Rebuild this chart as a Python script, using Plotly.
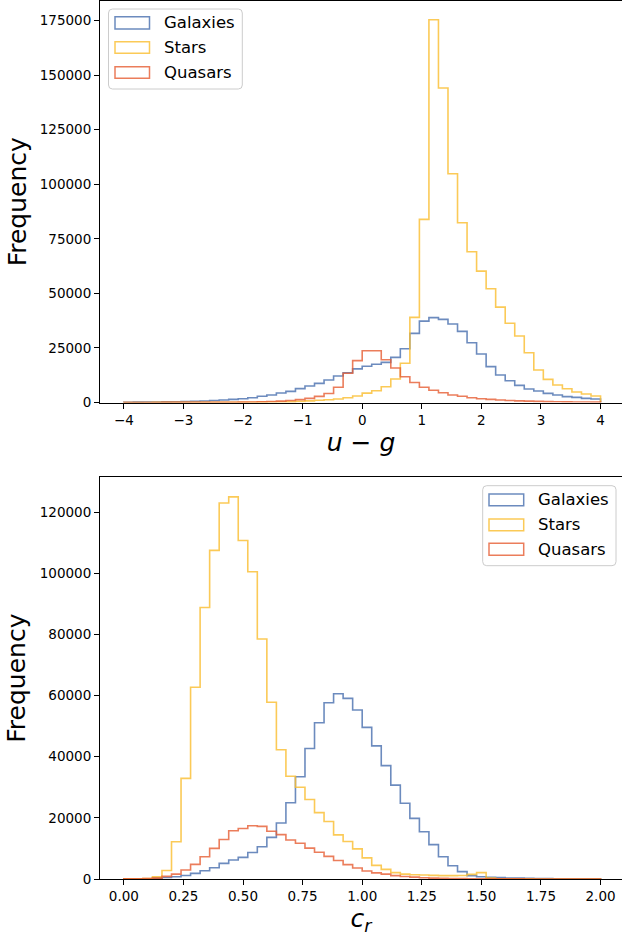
import numpy as np
import plotly.graph_objects as go

# ---------------- data (counts per bin, 50 bins each) ----------------
ug_edges = np.linspace(-4, 4, 51)   # u-g bins
cr_edges = np.linspace(0, 2, 51)    # c_r bins

ug_galaxies = [120, 150, 200, 250, 300, 350, 450, 550, 700, 900,
               1150, 1450, 1750, 2200, 2830, 3440, 4350, 5110, 6340, 7560,
               8780, 10300, 12140, 13650, 15400, 16600, 17500, 18400, 20700, 24650,
               31700, 37300, 38900, 38100, 35960, 32600, 27400, 22200, 16420, 12600,
               10000, 7860, 6180, 5270, 4200, 3440, 2670, 2370, 1910, 1600]
ug_stars = [20, 25, 30, 35, 40, 45, 50, 60, 70, 80,
            90, 100, 120, 140, 170, 200, 250, 300, 500, 750,
            1000, 1250, 1600, 2200, 3000, 4300, 5400, 7250, 10800, 18000,
            39000, 83900, 175400, 144100, 104800, 82400, 69100, 60200, 52100, 43700,
            36300, 30500, 22800, 14900, 10600, 8000, 6300, 4800, 3900, 3000]
ug_quasars = [20, 20, 25, 30, 35, 40, 45, 55, 65, 75,
              80, 100, 150, 250, 350, 450, 650, 900, 1300, 1900,
              2800, 4100, 7000, 13400, 19200, 23700, 23700, 19600, 15800, 11800,
              9150, 7000, 5600, 4500, 3450, 2850, 2200, 1750, 1450, 1150,
              900, 750, 650, 500, 400, 350, 300, 250, 200, 150]

cr_galaxies = [20, 40, 100, 300, 500, 750, 1150, 1850, 2720, 3700,
               5120, 6210, 7090, 8650, 10570, 13630, 18300, 24950, 33460, 42700,
               51100, 57650, 60600, 59100, 55260, 49600, 43550, 37100, 30700, 24800,
               19840, 15480, 11230, 7300, 4350, 2400, 1100, 750, 550, 450,
               350, 280, 220, 170, 130, 100, 80, 60, 40, 30]
cr_stars = [30, 60, 150, 700, 2800, 12200, 32900, 62700, 88800, 107500,
            123000, 125000, 110750, 100500, 78500, 57800, 42300, 33600, 30000, 26000,
            21700, 18800, 14450, 12250, 9850, 6900, 4450, 3150, 2100, 1600,
            1400, 1300, 1200, 1100, 1100, 1150, 1500, 2100, 300, 100,
            50, 40, 30, 20, 15, 10, 10, 5, 5, 5]
cr_quasars = [30, 60, 120, 300, 850, 1580, 2940, 4800, 7300, 10030,
              12900, 15800, 16500, 17440, 17200, 15600, 14500, 12750, 11670, 10100,
              8750, 7400, 6050, 4700, 3600, 2600, 2000, 1600, 1100, 800,
              600, 400, 300, 220, 170, 130, 100, 80, 60, 40,
              30, 25, 20, 15, 10, 10, 8, 5, 5, 5]

series_names = ["Galaxies", "Stars", "Quasars"]
ug_x_ticks = [-4, -3, -2, -1, 0, 1, 2, 3, 4]
ug_x_ticktext = ["\u22124", "\u22123", "\u22122", "\u22121", "0", "1", "2", "3", "4"]
cr_x_ticks = [0, 0.25, 0.5, 0.75, 1.0, 1.25, 1.5, 1.75, 2.0]
cr_x_ticktext = ["0.00", "0.25", "0.50", "0.75", "1.00", "1.25", "1.50", "1.75", "2.00"]
ug_y_ticks = [0, 25000, 50000, 75000, 100000, 125000, 150000, 175000]
cr_y_ticks = [0, 20000, 40000, 60000, 80000, 100000, 120000]

# ---------------- style ----------------
colors = ["rgba(76,114,176,0.82)", "rgba(250,190,50,0.82)", "rgba(230,92,50,0.80)"]
FONT = "DejaVu Sans"
W, H = 622, 938
ML, MR, MT, MB = 100, 0, 1, 59
PW, PH = W - ML - MR, H - MT - MB


def px_x(px):
    return (px - ML) / PW


def px_y(py):
    return (H - MB - py) / PH


def step_xy(edges, counts):
    x = np.concatenate([[edges[0]], edges])
    y = np.concatenate([[0], np.asarray(counts, dtype=float), [0]])
    return x, y


fig = go.Figure()
for xa, ya, edges, data in [("x", "y", ug_edges, [ug_galaxies, ug_stars, ug_quasars]),
                            ("x2", "y2", cr_edges, [cr_galaxies, cr_stars, cr_quasars])]:
    for name, col, counts in zip(series_names, colors, data):
        sx, sy = step_xy(edges, counts)
        fig.add_trace(go.Scatter(x=sx, y=sy, mode="lines", line_shape="hv",
                                 line=dict(color=col, width=1.6), name=name,
                                 showlegend=False, xaxis=xa, yaxis=ya,
                                 hoverinfo="skip"))

axis_common = dict(showgrid=False, zeroline=False, showline=True, linecolor="black",
                   linewidth=1, ticks="outside", ticklen=5, tickwidth=1, tickcolor="black",
                   tickfont=dict(family=FONT, size=13.5, color="black"))

ug_px_per_unit = (600.7 - 124) / 8
cr_px_per_unit = (600.7 - 124) / 2

fig.update_layout(
    width=W, height=H, margin=dict(l=ML, r=MR, t=MT, b=MB),
    paper_bgcolor="white", plot_bgcolor="white",
    font=dict(family=FONT, color="black"),
    xaxis=dict(axis_common, domain=[0, 1], anchor="y", mirror=True,
               range=[-4.4, -4.4 + PW / ug_px_per_unit],
               tickmode="array", tickvals=ug_x_ticks, ticktext=ug_x_ticktext,
               title=dict(text="<i>u</i> \u2212 <i>g</i>", font=dict(family=FONT, size=25),
                          standoff=4)),
    yaxis=dict(axis_common, domain=[px_y(402.5), px_y(1)], anchor="x",
               range=[0, 184000], tickmode="array", tickvals=ug_y_ticks,
               ticktext=[str(v) for v in ug_y_ticks],
               title=dict(text="Frequency", font=dict(family=FONT, size=25), standoff=6)),
    xaxis2=dict(axis_common, domain=[0, 1], anchor="y2", mirror=True,
                range=[-0.1, -0.1 + PW / cr_px_per_unit],
                tickmode="array", tickvals=cr_x_ticks, ticktext=cr_x_ticktext,
                title=dict(text="<i>c</i><sub><i>r</i></sub>", font=dict(family=FONT, size=25),
                           standoff=2)),
    yaxis2=dict(axis_common, domain=[0, px_y(477.3)], anchor="x2",
                range=[0, 131400], tickmode="array", tickvals=cr_y_ticks,
                ticktext=[str(v) for v in cr_y_ticks],
                title=dict(text="Frequency", font=dict(family=FONT, size=25), standoff=6)),
)


# ---------------- legends (matplotlib-style boxes) ----------------
def rounded_rect(x0, y0, x1, y1, r):
    X0, X1 = px_x(x0), px_x(x1)
    Y0, Y1 = px_y(y0), px_y(y1)  # Y0 top (larger), Y1 bottom
    rx, ry = r / PW, r / PH
    return (f"M {X0+rx},{Y0} L {X1-rx},{Y0} Q {X1},{Y0} {X1},{Y0-ry} "
            f"L {X1},{Y1+ry} Q {X1},{Y1} {X1-rx},{Y1} L {X0+rx},{Y1} "
            f"Q {X0},{Y1} {X0},{Y1+ry} L {X0},{Y0-ry} Q {X0},{Y0} {X0+rx},{Y0} Z")


shapes = []
annotations = []


def add_legend(box, patch_x, rows, text_x):
    shapes.append(dict(type="path", xref="paper", yref="paper",
                       path=rounded_rect(*box, 4),
                       line=dict(color="rgba(204,204,204,1)", width=1),
                       fillcolor="rgba(255,255,255,0.8)", layer="above"))
    for name, col, (ya, yb) in zip(series_names, colors, rows):
        shapes.append(dict(type="rect", xref="paper", yref="paper",
                           x0=px_x(patch_x[0]), x1=px_x(patch_x[1]),
                           y0=px_y(yb), y1=px_y(ya),
                           line=dict(color=col, width=1.5), fillcolor="rgba(0,0,0,0)",
                           layer="above"))
        annotations.append(dict(xref="paper", yref="paper", x=px_x(text_x),
                                y=px_y((ya + yb) / 2), xanchor="left", yanchor="middle",
                                text=name, showarrow=False,
                                font=dict(family=FONT, size=16.5, color="black")))


add_legend((108.5, 9, 242.3, 89), (115, 149.5),
           [(16.7, 29), (41.7, 53.3), (66.7, 78.3)], 162)
add_legend((482.7, 485.7, 616, 565.7), (489, 523.7),
           [(494, 505.7), (519, 530.7), (543.3, 555.3)], 536)

fig.update_layout(shapes=shapes, annotations=annotations)
fig.write_html("out.html")
